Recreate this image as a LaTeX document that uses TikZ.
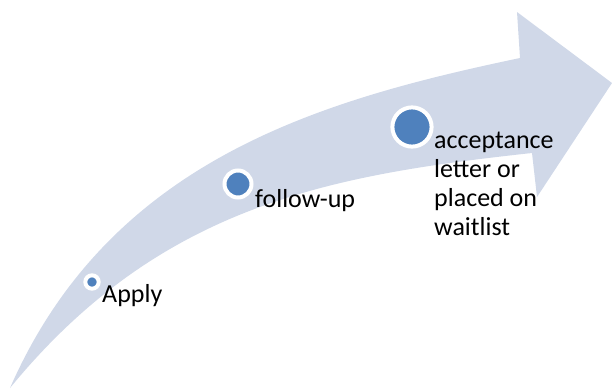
\documentclass[tikz,border=0pt]{standalone}
\usepackage{fontspec}
\setmainfont{Carlito}
\usepackage{tikz}
\definecolor{band}{RGB}{208,216,232}
\definecolor{dotblue}{RGB}{79,129,189}

\begin{document}
\begin{tikzpicture}[x=1bp, y=-1bp,
    dot/.style={circle, fill=dotblue, draw=white, line width=4bp, inner sep=0pt},
    lbl/.style={anchor=base west, inner sep=0pt, align=left,
        font=\fontsize{26bp}{29bp}\selectfont}]

    \useasboundingbox (0,0) rectangle (612,388);

    \fill [band] (10,388) .. controls (110,160) and (320,100) .. (520,58)
        -- (517,12) -- (612,83) -- (537,197) -- (532,153)
        .. controls (330,175) and (160,205) .. (10,388) -- cycle;

    \node [dot, minimum size=13.4bp] (a) at (92,282) {};
    \node [dot, minimum size=27bp] (b) at (238,184) {};
    \node [dot, minimum size=39.2bp] (c) at (412,127) {};

    \node [lbl] (d) at (102,302) {Apply};
    \node [lbl] (e) at (255,207) {follow-up};
    \node [lbl] (f) at (434,235) {acceptance\\letter or\\placed on\\waitlist};

\end{tikzpicture}
\end{document}
